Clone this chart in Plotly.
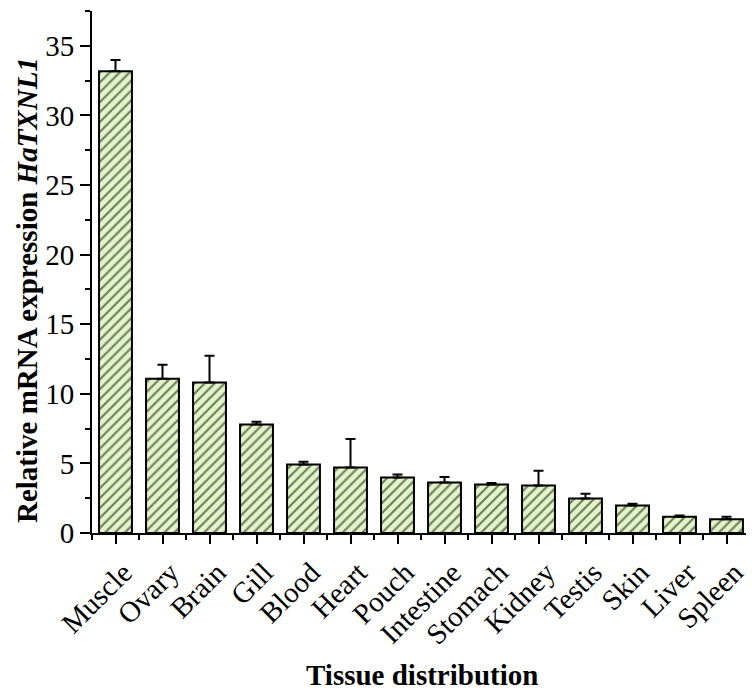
import plotly.graph_objects as go

categories = ["Muscle", "Ovary", "Brain", "Gill", "Blood", "Heart", "Pouch",
              "Intestine", "Stomach", "Kidney", "Testis", "Skin", "Liver", "Spleen"]
means = [33.17, 11.08, 10.81, 7.80, 4.92, 4.71, 3.99, 3.63, 3.49, 3.42, 2.48, 1.98, 1.17, 0.98]
errors = [0.81, 1.00, 1.92, 0.19, 0.20, 2.04, 0.22, 0.39, 0.10, 1.05, 0.34, 0.12, 0.09, 0.19]
y_ticks = [0, 5, 10, 15, 20, 25, 30, 35]
x_title = "<b>Tissue distribution</b>"
y_title = "<b>Relative mRNA expression <i>HaTXNL1</i></b>"

FONT = "Times New Roman, Liberation Serif, serif"
xpos = list(range(len(categories)))

fig = go.Figure()
fig.add_trace(go.Bar(
    x=xpos, y=means, width=0.7,
    marker=dict(color="#e2f5c6",
                line=dict(color="black", width=2),
                pattern=dict(shape="/", fgcolor="black", bgcolor="#e2f5c6",
                             size=7, solidity=0.3, fillmode="overlay")),
    error_y=dict(type="data", symmetric=False, array=errors,
                 arrayminus=[0] * len(errors), color="black", thickness=2, width=5),
))

# page body has an 8px default margin, so the figure is 8px smaller on each side
fig.update_layout(
    width=746, height=685,
    margin=dict(l=84, r=4, t=3, b=160),
    plot_bgcolor="white", paper_bgcolor="white",
    showlegend=False,
    font=dict(family=FONT, color="black"),
    annotations=[
        dict(text=x_title, xref="paper", yref="paper", x=0.5015, y=-0.3065,
             xanchor="center", yanchor="bottom", showarrow=False,
             font=dict(size=29, family=FONT)),
        dict(text=y_title, xref="paper", yref="paper", x=-0.0988, y=0.4655,
             xanchor="center", yanchor="middle", textangle=-90, showarrow=False,
             font=dict(size=29, family=FONT)),
    ],
)
fig.update_xaxes(
    range=[-0.5, 13.5], tickmode="array", tickvals=xpos, ticktext=categories,
    tickangle=-45, tickfont=dict(size=29, family=FONT), automargin=False,
    ticklabelshift=8,
    showline=True, linecolor="black", linewidth=2, mirror=False,
    ticks="outside", ticklen=9, tickwidth=2, tickcolor="black",
    minor=dict(tick0=0.5, dtick=1, ticks="outside", ticklen=5, tickwidth=2, tickcolor="black"),
    showgrid=False, zeroline=False,
)
fig.update_yaxes(
    range=[0, 37.5], tickmode="array", tickvals=y_ticks, automargin=False,
    tickfont=dict(size=29, family=FONT),
    showline=True, linecolor="black", linewidth=2,
    ticks="outside", ticklen=10, tickwidth=2, tickcolor="black",
    minor=dict(dtick=2.5, ticks="outside", ticklen=5, tickwidth=2, tickcolor="black"),
    showgrid=False, zeroline=False,
)

fig.write_html("out.html")
